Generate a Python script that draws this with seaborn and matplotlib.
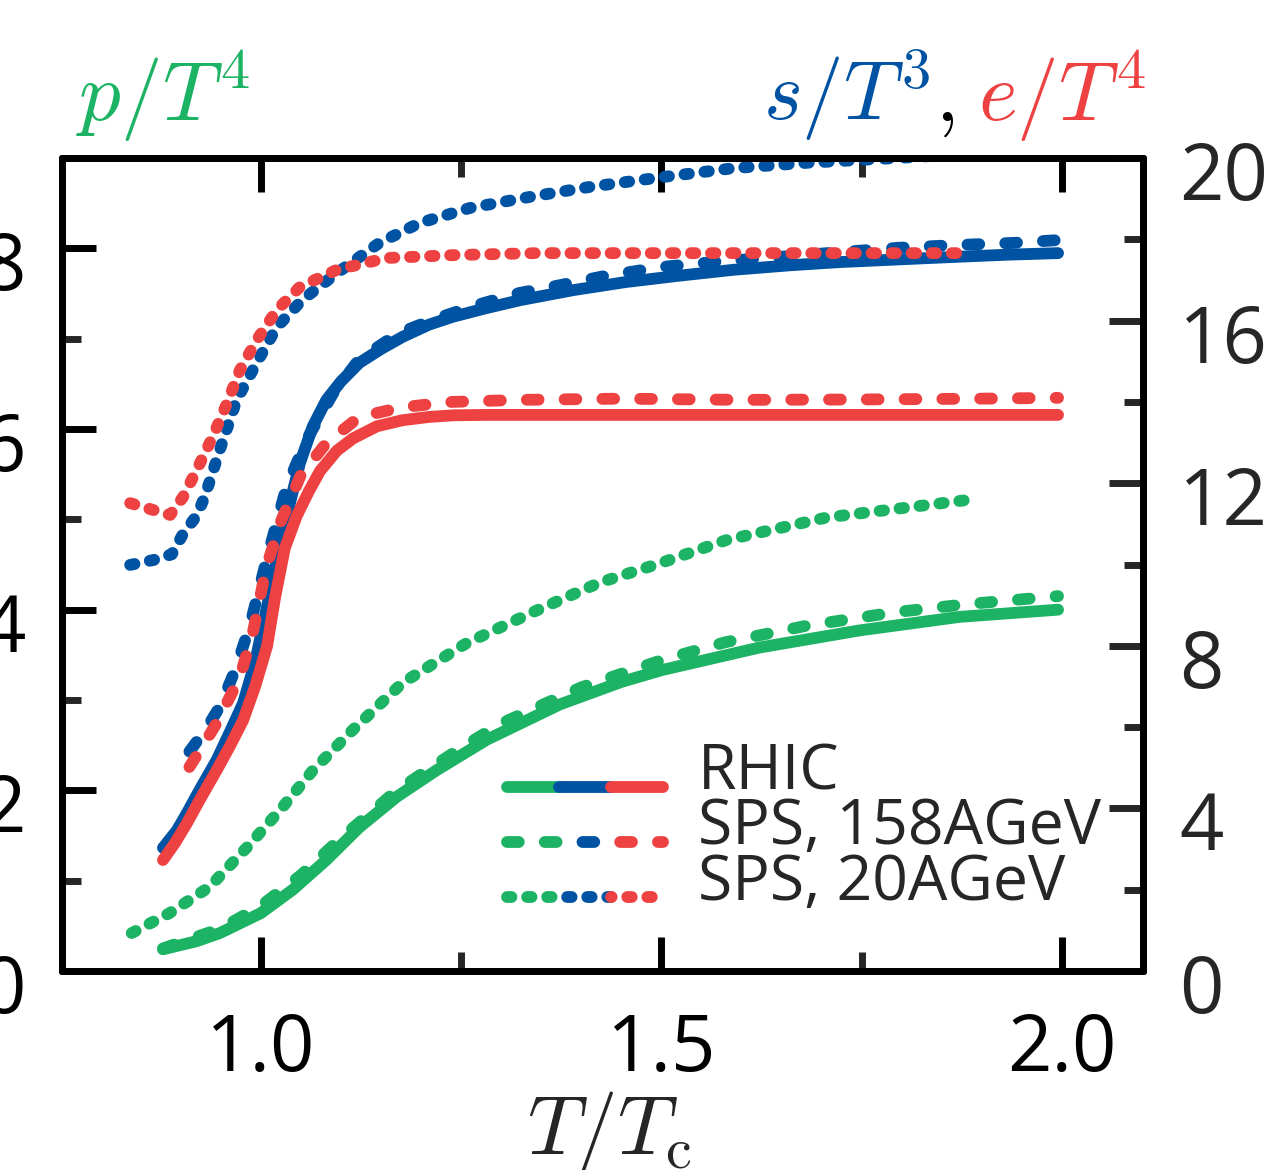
import numpy as np
import pandas as pd
import matplotlib
matplotlib.use("Agg")
import matplotlib.pyplot as plt
import seaborn as sns
from matplotlib.lines import Line2D
from matplotlib.legend_handler import HandlerBase
from matplotlib.ticker import FixedLocator
import matplotlib.transforms as mtransforms

# ---------------- data ----------------
# p/T^4 (left axis)
p_rhic_x = [0.878, 0.92, 0.949, 1.0, 1.04, 1.082, 1.123, 1.17, 1.219, 1.282, 1.373, 1.45, 1.5, 1.622, 1.747, 1.872, 1.995]
p_rhic_y = [0.24, 0.33, 0.42, 0.64, 0.90, 1.23, 1.59, 1.93, 2.22, 2.56, 2.95, 3.2, 3.33, 3.58, 3.77, 3.92, 4.0]
p_sps158_x = [0.878, 0.95, 1.0, 1.05, 1.1, 1.17, 1.25, 1.3, 1.4, 1.5, 1.58, 1.68, 1.79, 1.88, 1.995]
p_sps158_y = [0.25, 0.47, 0.72, 1.06, 1.47, 2.0, 2.47, 2.74, 3.14, 3.44, 3.64, 3.82, 3.97, 4.06, 4.15]
p_sps20_x = [0.839, 0.886, 0.936, 0.983, 1.024, 1.065, 1.115, 1.177, 1.257, 1.344, 1.423, 1.497, 1.581, 1.706, 1.788, 1.878]
p_sps20_y = [0.42, 0.64, 0.93, 1.37, 1.78, 2.22, 2.67, 3.19, 3.63, 3.99, 4.30, 4.51, 4.77, 5.02, 5.11, 5.21]

# s/T^3 (right axis)
s_rhic_x = [0.878, 0.895, 0.908, 0.925, 0.945, 0.962, 0.978, 0.993, 1.005, 1.02, 1.035, 1.049, 1.065, 1.082, 1.1, 1.123,
            1.15, 1.177, 1.21, 1.239, 1.28, 1.323, 1.39, 1.456, 1.52, 1.59, 1.66, 1.723, 1.79, 1.858, 1.93, 1.995]
s_rhic_y = [3.03, 3.45, 3.89, 4.5, 5.19, 5.9, 6.59, 7.6, 8.7, 10.1, 11.4, 12.5, 13.4, 14.05, 14.5, 14.96,
            15.3, 15.6, 15.9, 16.09, 16.3, 16.5, 16.75, 16.95, 17.1, 17.25, 17.36, 17.44, 17.5, 17.56, 17.62, 17.66]
s_sps158_x = [0.911, 0.93, 0.949, 0.968, 0.986, 1.007, 1.032, 1.057, 1.09, 1.123, 1.173, 1.219, 1.269, 1.323, 1.368,
              1.43, 1.501, 1.57, 1.643, 1.72, 1.795, 1.87, 1.938, 1.995]
s_sps158_y = [5.4, 5.9, 6.5, 7.4, 8.46, 10.1, 11.9, 13.06, 14.2, 15.05, 15.7, 16.05, 16.38, 16.68, 16.85,
              17.1, 17.32, 17.45, 17.56, 17.68, 17.79, 17.86, 17.91, 17.98]
s_sps20_x = [0.837, 0.866, 0.889, 0.903, 0.92, 0.93, 0.949, 0.97, 0.995, 1.02, 1.052, 1.095, 1.148, 1.198, 1.261,
             1.335, 1.411, 1.501, 1.59, 1.68, 1.746, 1.813, 1.862]
s_sps20_y = [9.99, 10.11, 10.25, 10.75, 11.2, 11.66, 12.82, 14.05, 14.96, 15.84, 16.51, 17.17, 17.91, 18.4, 18.77,
             19.04, 19.29, 19.53, 19.75, 19.88, 19.95, 20.02, 20.08]

# e/T^4 (right axis)
e_rhic_x = [0.878, 0.893, 0.908, 0.925, 0.945, 0.962, 0.978, 0.993, 1.008, 1.018, 1.03, 1.045, 1.06, 1.074, 1.095,
            1.115, 1.145, 1.177, 1.21, 1.24, 1.28, 1.344, 1.5, 1.7, 1.85, 1.995]
e_rhic_y = [2.73, 3.15, 3.64, 4.25, 4.94, 5.55, 6.17, 7.0, 8.0, 9.2, 10.4, 11.2, 11.8, 12.3, 12.8,
            13.1, 13.4, 13.55, 13.63, 13.67, 13.68, 13.68, 13.68, 13.68, 13.68, 13.68]
e_sps158_x = [0.911, 0.928, 0.945, 0.974, 0.99, 1.007, 1.026, 1.05, 1.082, 1.123, 1.177, 1.239, 1.323, 1.45, 1.6, 1.75,
              1.9, 1.995]
e_sps158_y = [5.02, 5.55, 6.1, 7.23, 8.31, 9.94, 11.1, 12.2, 12.99, 13.63, 13.87, 14.0, 14.05, 14.08, 14.05, 14.06,
              14.08, 14.1]
e_sps20_x = [0.837, 0.866, 0.887, 0.903, 0.92, 0.94, 0.958, 0.974, 0.995, 1.02, 1.049, 1.095, 1.157, 1.239, 1.344,
             1.5, 1.7, 1.875]
e_sps20_y = [11.51, 11.34, 11.22, 11.66, 12.32, 13.14, 13.97, 14.78, 15.52, 16.26, 16.83, 17.25, 17.54, 17.61, 17.66,
             17.66, 17.66, 17.66]

legend_labels = ["RHIC", "SPS, 158AGeV", "SPS, 20AGeV"]
x_ticks = [1.0, 1.5, 2.0]
x_tick_labels = ["1.0", "1.5", "2.0"]
left_ticks = [0, 2, 4, 6, 8]
right_ticks = [0, 4, 8, 12, 16, 20]

# ---------------- style ----------------
GREEN = "#1db364"
BLUE = "#0052a2"
RED = "#ee4242"
LW = 8.5
SOLID = "-"
DASHED = (0, (1.0, 2.2))
DOTTED = (0, (0.38, 1.32))
FS = 56
FS_MATH = 60

sns.set_theme(style="ticks")
plt.rcParams["font.family"] = ["Open Sans", "DejaVu Sans"]
plt.rcParams["mathtext.fontset"] = "cm"

W, H = 1273, 1170
fig = plt.figure(figsize=(W / 100, H / 100), dpi=100)
ax = fig.add_axes([62 / W, 1 - 971 / H, (1143 - 62) / W, (971 - 158) / H])
ax2 = ax.twinx()

common = dict(lw=LW, solid_capstyle="round", dash_capstyle="round", legend=False)

# left axis: pressure
sns.lineplot(x=p_rhic_x, y=p_rhic_y, ax=ax, color=GREEN, linestyle=SOLID, **common)
sns.lineplot(x=p_sps158_x, y=p_sps158_y, ax=ax, color=GREEN, linestyle=DASHED, **common)
sns.lineplot(x=p_sps20_x, y=p_sps20_y, ax=ax, color=GREEN, linestyle=DOTTED, **common)

# right axis: entropy and energy density
sns.lineplot(x=s_rhic_x, y=s_rhic_y, ax=ax2, color=BLUE, linestyle=SOLID, **common)
sns.lineplot(x=e_rhic_x, y=e_rhic_y, ax=ax2, color=RED, linestyle=SOLID, **common)
sns.lineplot(x=s_sps158_x, y=s_sps158_y, ax=ax2, color=BLUE, linestyle=DASHED, **common)
sns.lineplot(x=e_sps158_x, y=e_sps158_y, ax=ax2, color=RED, linestyle=DASHED, **common)
sns.lineplot(x=s_sps20_x, y=s_sps20_y, ax=ax2, color=BLUE, linestyle=DOTTED, **common)
sns.lineplot(x=e_sps20_x, y=e_sps20_y, ax=ax2, color=RED, linestyle=DOTTED, **common)

ax.set_xlim(0.752, 2.101)
ax.set_ylim(0, 9)
ax2.set_ylim(0, 20)
ax.set_ylabel("")
ax2.set_ylabel("")

# ticks
ax.set_xticks(x_ticks)
ax.set_xticklabels(x_tick_labels)
ax.xaxis.set_minor_locator(FixedLocator([1.25, 1.75]))
ax.set_yticks(left_ticks)
ax.set_yticklabels([str(t) for t in left_ticks])
ax.yaxis.set_minor_locator(FixedLocator([1, 3, 5, 7]))
ax2.set_yticks(right_ticks)
ax2.set_yticklabels([str(t) for t in right_ticks])
ax2.yaxis.set_minor_locator(FixedLocator([2, 6, 10, 14, 18]))

ax.tick_params(axis="both", which="major", direction="in", length=24.5, width=5, labelsize=FS,
               top=True, right=False, color="black", labelcolor="black")
ax.tick_params(axis="both", which="minor", direction="in", length=14, width=5, top=True, right=False)
ax.tick_params(axis="x", pad=29)
ax.tick_params(axis="y", pad=26)
ax2.tick_params(axis="y", which="major", direction="in", length=24.5, width=5, labelsize=FS,
                left=False, right=True, pad=26)
ax2.tick_params(axis="y", which="minor", direction="in", length=14, width=5, left=False, right=True)

for a in (ax, ax2):
    for sp in a.spines.values():
        sp.set_visible(True)
        sp.set_linewidth(5)
        sp.set_color("black")
        sp.set_capstyle("round")

# shift y tick labels slightly down like the reference
shift = mtransforms.ScaledTranslation(0, -12 / 100, fig.dpi_scale_trans)
for lab in ax.get_yticklabels() + ax2.get_yticklabels():
    lab.set_transform(lab.get_transform() + shift)

# axis labels
ax.set_xlabel(r"$T/T_{\mathrm{c}}$", fontsize=FS_MATH)
ax.xaxis.set_label_coords((610 - 62) / (1143 - 62), -(1089 - 971) / (971 - 158))
ax.xaxis.label.set_va("top")

fig.text(76 / W, 1 - 121 / H, r"$p/T^4$", color=GREEN, fontsize=FS_MATH, ha="left", va="baseline")
t1 = fig.text(763 / W, 1 - 121 / H, r"$s/T^3$", color=BLUE, fontsize=FS_MATH, ha="left", va="baseline")
renderer = fig.canvas.get_renderer()
bb1 = t1.get_window_extent(renderer)
t2 = fig.text(bb1.x1 / W + 4 / W, 1 - 121 / H, r"$,$", color="black", fontsize=FS_MATH, ha="left", va="baseline")
bb2 = t2.get_window_extent(renderer)
fig.text(bb2.x1 / W + 24 / W, 1 - 121 / H, r"$e/T^4$", color=RED, fontsize=FS_MATH, ha="left", va="baseline")


# legend with tri-coloured handles
class TriColorHandler(HandlerBase):
    def __init__(self, ls):
        super().__init__()
        self.ls = ls

    def create_artists(self, legend, orig_handle, xdescent, ydescent, width, height, fontsize, trans):
        y = height / 2 - ydescent - 14
        x0 = -xdescent
        seg = width / 3
        arts = []
        for i, col in enumerate([GREEN, BLUE, RED]):
            if isinstance(self.ls, tuple):
                on, off = self.ls[1]
                off_units = (i * seg / LW) % (on + off)
                ls = (off_units, (on, off))
            else:
                ls = self.ls
            ln = Line2D([x0 + i * seg, x0 + (i + 1) * seg], [y, y], color=col, lw=LW, linestyle=ls,
                        solid_capstyle="round", dash_capstyle="round")
            ln.set_transform(trans)
            arts.append(ln)
        return arts


handles = [Line2D([], [], color="k"), Line2D([], [], color="k"), Line2D([], [], color="k")]
hmap = {handles[0]: TriColorHandler(SOLID), handles[1]: TriColorHandler(DASHED), handles[2]: TriColorHandler(DOTTED)}
leg = ax2.legend(handles, legend_labels, handler_map=hmap, loc="upper left",
                 bbox_to_anchor=((507 - 62) / (1143 - 62), (971 - 742) / (971 - 158)),
                 frameon=False, fontsize=45, handlelength=2.5, handletextpad=0.55, labelspacing=-0.12,
                 borderpad=0, borderaxespad=0)

fig.savefig("out.png", dpi=100)
